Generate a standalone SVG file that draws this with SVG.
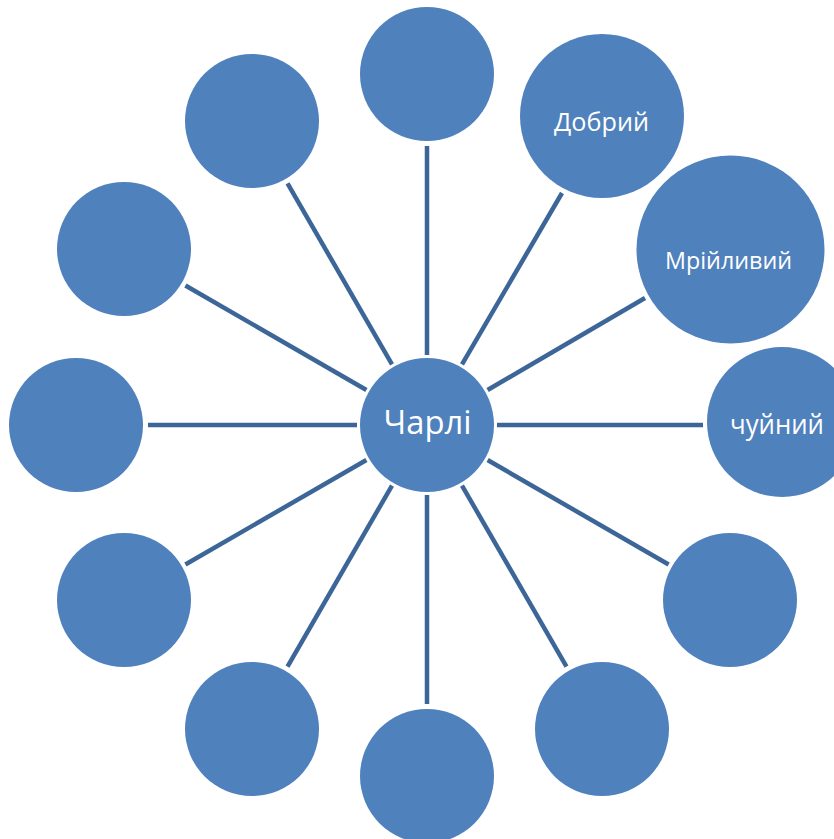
<svg xmlns="http://www.w3.org/2000/svg" width="834" height="839" viewBox="0 0 834 839">
<style>
.n{fill:#4f81bd}
.c line{stroke:#3d6698;stroke-width:4.5}
.t{fill:#ffffff;font-family:"Open Sans","Liberation Sans",sans-serif;text-anchor:middle}
</style>
<rect width="834" height="839" fill="#ffffff"/>
<g id="connectors" class="c">
<line x1="497" y1="425" x2="703" y2="425"/>
<line x1="487.6" y1="390" x2="645" y2="298"/>
<line x1="462" y1="364.4" x2="562" y2="193"/>
<line x1="427" y1="355" x2="427" y2="146"/>
<line x1="392" y1="364.4" x2="287.5" y2="183.4"/>
<line x1="366.4" y1="390" x2="185.4" y2="285.5"/>
<line x1="357" y1="425" x2="148" y2="425"/>
<line x1="366.4" y1="460" x2="185.4" y2="564.5"/>
<line x1="392" y1="485.6" x2="287.5" y2="666.6"/>
<line x1="427" y1="495" x2="427" y2="704"/>
<line x1="462" y1="485.6" x2="566.5" y2="666.6"/>
<line x1="487.6" y1="460" x2="668.6" y2="564.5"/>
</g>
<g id="center"><circle class="n" cx="427" cy="425" r="67"/><text class="t" x="427.5" y="434" font-size="32" textLength="88" lengthAdjust="spacingAndGlyphs">Чарлі</text></g>
<g id="n0"><circle class="n" cx="782" cy="422" r="75"/><text class="t" x="777" y="434" font-size="27" textLength="94" lengthAdjust="spacingAndGlyphs">чуйний</text></g>
<g id="n30"><circle class="n" cx="730.5" cy="249.5" r="94"/><text class="t" x="728.5" y="269" font-size="24" textLength="127" lengthAdjust="spacingAndGlyphs">Мрійливий</text></g>
<g id="n60"><circle class="n" cx="602" cy="116" r="82"/><text class="t" x="601.5" y="131" font-size="26" textLength="95" lengthAdjust="spacingAndGlyphs">Добрий</text></g>
<g id="n90"><circle class="n" cx="427" cy="74" r="67"/></g>
<g id="n120"><circle class="n" cx="252" cy="121" r="67"/></g>
<g id="n150"><circle class="n" cx="124" cy="249" r="67"/></g>
<g id="n180"><circle class="n" cx="76" cy="425" r="67"/></g>
<g id="n210"><circle class="n" cx="124" cy="600" r="67"/></g>
<g id="n240"><circle class="n" cx="252" cy="729" r="67"/></g>
<g id="n270"><circle class="n" cx="427" cy="776" r="67"/></g>
<g id="n300"><circle class="n" cx="602" cy="729" r="67"/></g>
<g id="n330"><circle class="n" cx="730" cy="600" r="67"/></g>
</svg>
